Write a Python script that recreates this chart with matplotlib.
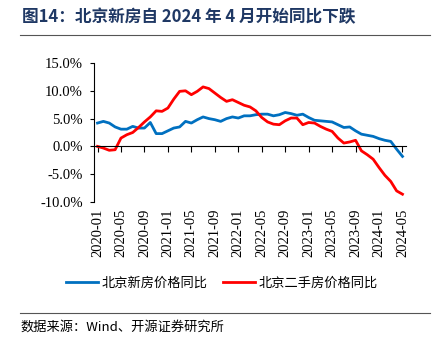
import matplotlib
matplotlib.use("Agg")
import matplotlib.pyplot as plt
import numpy as np

months = [f"{y}-{m:02d}" for y in range(2020, 2025) for m in range(1, 13)][:53]

new_house = [4.2, 4.5, 4.2, 3.5, 3.1, 3.1, 3.6, 3.3, 3.3, 4.3,
             2.3, 2.3, 2.8, 3.3, 3.5, 4.5, 4.2, 4.8, 5.3, 5.0,
             4.8, 4.5, 5.0, 5.3, 5.1, 5.5, 5.5, 5.7, 5.8, 5.8,
             5.5, 5.7, 6.1, 5.9, 5.6, 5.8, 5.2, 4.7, 4.6, 4.5,
             4.4, 3.9, 3.4, 3.5, 2.8, 2.2, 2.0, 1.8, 1.4, 1.1,
             0.9, -0.5, -1.8]
second_hand = [0.0, -0.3, -0.7, -0.6, 1.5, 2.1, 2.5, 3.4, 4.4, 5.3,
               6.4, 6.3, 6.9, 8.5, 9.9, 10.0, 9.3, 9.9, 10.7, 10.4,
               9.6, 8.8, 8.1, 8.4, 7.9, 7.4, 7.1, 6.4, 5.2, 4.4,
               4.0, 3.9, 4.6, 5.1, 5.1, 3.9, 4.3, 4.2, 3.6, 3.1,
               2.7, 1.5, 0.6, 0.8, 1.1, -0.8, -1.5, -2.3, -3.8, -5.2,
               -6.3, -8.0, -8.6]

title = "图14：北京新房自 2024 年 4 月开始同比下跌"
source = "数据来源：Wind、开源证券研究所"
labels = ["北京新房价格同比", "北京二手房价格同比"]

cjk = ["Noto Sans CJK SC", "DejaVu Sans"]
serif = ["Liberation Serif", "DejaVu Serif"]

fig = plt.figure(figsize=(4.44, 3.39), dpi=100)
ax = fig.add_axes([94 / 444, 1 - 202 / 339, (406 - 94) / 444, (202 - 63) / 339])

# spine position first: it resets the ticks
for s in ["top", "right"]:
    ax.spines[s].set_visible(False)
ax.spines["bottom"].set_position(("data", 0))
ax.spines["bottom"].set_linewidth(0.8)
ax.spines["left"].set_linewidth(0.8)

x = np.arange(len(months))
ax.plot(x, new_house, color="#0070C0", lw=2.0, label=labels[0])
ax.plot(x, second_hand, color="#FF0000", lw=2.0, label=labels[1])

ax.set_ylim(-10, 15)
ax.set_yticks([-10, -5, 0, 5, 10, 15])
ax.set_yticklabels([f"{v:.1f}%" for v in [-10, -5, 0, 5, 10, 15]], family=serif, fontsize=10.5)
ax.set_xlim(-0.6, len(months) - 0.4)
xt = list(range(0, len(months), 4))
ax.set_xticks(xt)
ax.set_xticklabels([months[i] for i in xt], rotation=90, family=serif, fontsize=10.5)

ax.tick_params(axis="x", direction="out", length=4, pad=41, width=0.8)
ax.tick_params(axis="y", direction="out", length=3, pad=5, width=0.8)

fig.legend(loc="center", bbox_to_anchor=(0.5, 1 - 283 / 339), ncol=2, frameon=False,
           prop={"family": cjk, "size": 9.5}, handlelength=2.4, columnspacing=1.2,
           handletextpad=0.3)

fig.text(22 / 444, 1 - 17 / 339, title, family=cjk, fontweight="bold", fontsize=12,
         color="#1F3864", va="center")
fig.add_artist(plt.Line2D([20 / 444, 430 / 444], [1 - 35 / 339] * 2, color="#555555", lw=0.8))
fig.add_artist(plt.Line2D([20 / 444, 430 / 444], [1 - 313 / 339] * 2, color="#555555", lw=0.8))
fig.text(20 / 444, 1 - 327 / 339, source, family=cjk, fontsize=9.5, color="black", va="center")

fig.savefig("out.png", dpi=100)
